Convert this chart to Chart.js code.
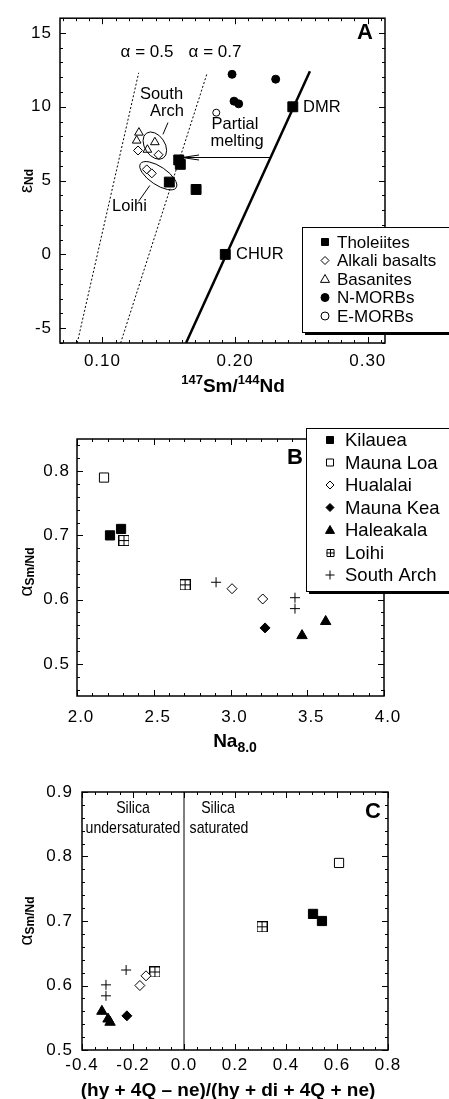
<!DOCTYPE html>
<html>
<head>
<meta charset="utf-8">
<script src="https://cdn.jsdelivr.net/npm/chart.js@4.4.1/dist/chart.umd.min.js"></script>
<style>
  html, body { margin: 0; padding: 0; background: #fff; }
  #wrap { position: relative; width: 449px; height: 1099px; overflow: hidden; }
  canvas { position: absolute; left: 0; }
</style>
</head>
<body>
<div id="wrap">
  <canvas id="chart-a" width="449" height="395" style="top:0"></canvas>
  <canvas id="chart-b" width="449" height="360" style="top:395px"></canvas>
  <canvas id="chart-c" width="449" height="344" style="top:755px"></canvas>
</div>
<script>
  // ---- Panel A: 147Sm/144Nd vs eps Nd ----
  const A_X_TICKS = [0.1, 0.2, 0.3];
  const A_Y_TICKS = [-5, 0, 5, 10, 15];
  const A_THOL_X = [0.1575, 0.1587, 0.1504, 0.1706];
  const A_THOL_Y = [6.4, 6.1, 4.9, 4.4];
  const A_RES_NAMES = ["CHUR", "DMR"];
  const A_RES_X = [0.1926, 0.2435];
  const A_RES_Y = [0, 10];
  const A_ALK_X = [0.1268, 0.1423, 0.1334, 0.1372];
  const A_ALK_Y = [7.04, 6.75, 5.76, 5.49];
  const A_BAS_X = [0.1275, 0.1258, 0.1395, 0.1339];
  const A_BAS_Y = [8.25, 7.71, 7.6, 7.09];
  const A_NMORB_X = [0.1977, 0.2306, 0.1992, 0.2027];
  const A_NMORB_Y = [12.2, 11.87, 10.38, 10.2];
  const A_EMORB_X = [0.1858];
  const A_EMORB_Y = [9.6];
  const A_MANTLE_X = [0.163, 0.2564];   // CHUR-DMR growth line
  const A_MANTLE_Y = [-6, 12.4];
  const A_ALPHA05_X = [0.081, 0.1273];
  const A_ALPHA05_Y = [-6, 12.3];
  const A_ALPHA07_X = [0.1137, 0.179];
  const A_ALPHA07_Y = [-6, 12.3];

  // ---- Panel B: Na8.0 vs alpha Sm/Nd ----
  const B_X_TICKS = [2.0, 2.5, 3.0, 3.5, 4.0];
  const B_Y_TICKS = [0.5, 0.6, 0.7, 0.8];
  const B_KIL_X = [2.215, 2.287];  const B_KIL_Y = [0.700, 0.710];
  const B_ML_X = [2.176];          const B_ML_Y = [0.790];
  const B_HUAL_X = [3.01, 3.21];   const B_HUAL_Y = [0.617, 0.601];
  const B_MK_X = [3.225];          const B_MK_Y = [0.556];
  const B_HAL_X = [3.466, 3.62];   const B_HAL_Y = [0.544, 0.566];
  const B_LOI_X = [2.306, 2.704];  const B_LOI_Y = [0.692, 0.623];
  const B_SA_X = [2.906, 3.42, 3.42];
  const B_SA_Y = [0.627, 0.603, 0.586];

  // ---- Panel C: normative silica index vs alpha Sm/Nd ----
  const C_X_TICKS = [-0.4, -0.2, 0, 0.2, 0.4, 0.6, 0.8];
  const C_Y_TICKS = [0.5, 0.6, 0.7, 0.8, 0.9];
  const C_KIL_X = [0.506, 0.541];  const C_KIL_Y = [0.711, 0.700];
  const C_ML_X = [0.608];          const C_ML_Y = [0.790];
  const C_HUAL_X = [-0.149, -0.173]; const C_HUAL_Y = [0.615, 0.600];
  const C_MK_X = [-0.224];         const C_MK_Y = [0.553];
  const C_HAL_X = [-0.322, -0.298, -0.29]; const C_HAL_Y = [0.560, 0.548, 0.543];
  const C_LOI_X = [0.306, -0.114]; const C_LOI_Y = [0.691, 0.621];
  const C_SA_X = [-0.227, -0.306, -0.306];
  const C_SA_Y = [0.624, 0.601, 0.584];
  const C_DIVIDE_X = [0, 0];       const C_DIVIDE_Y = [0.5, 0.9];

  const FONT = "'Liberation Sans', Arial, Helvetica, sans-serif";
  const f = (size, bold) => `${bold ? "bold " : ""}${size}px ${FONT}`;
  const pts = (xs, ys) => xs.map((x, i) => ({ x, y: ys[i] }));

  // square with a plus inside (Loihi)
  const BOX_PLUS = (() => {
    const c = document.createElement("canvas");
    c.width = 11; c.height = 11;
    const g = c.getContext("2d");
    g.fillStyle = "#fff"; g.fillRect(0, 0, 11, 11);
    g.strokeStyle = "#000"; g.lineWidth = 1;
    g.strokeRect(0.5, 0.5, 10, 10);
    g.beginPath(); g.moveTo(5.5, 0.5); g.lineTo(5.5, 10.5); g.moveTo(0.5, 5.5); g.lineTo(10.5, 5.5); g.stroke();
    return c;
  })();

  const pointSet = (label, xs, ys, style, r, fill) => ({
    label, data: pts(xs, ys), pointStyle: style, pointRadius: r,
    backgroundColor: fill, borderColor: "#000", borderWidth: 1, order: 1,
  });
  const lineSet = (label, xs, ys, w, dash) => ({
    label, data: pts(xs, ys), showLine: true, pointRadius: 0,
    borderColor: "#000", borderWidth: w, borderDash: dash || [], order: 5,
  });

  function fmt(v, dec) {
    return Math.abs(v) < 1e-9 ? (0).toFixed(dec) : v.toFixed(dec);
  }

  function axis(a, horiz) {
    return {
      type: "linear", position: horiz ? "bottom" : "left", min: a.min, max: a.max,
      grid: { display: false, drawTicks: false }, border: { display: false },
      afterFit: (s) => { if (horiz) s.height = a.size; else s.width = a.size; },
      afterBuildTicks: (s) => { s.ticks = a.ticks.map((v) => ({ value: v })); },
      ticks: {
        autoSkip: false, maxRotation: 0,
        padding: a.pad, labelOffset: a.labelOffset || 0, color: "#000",
        font: { family: FONT, size: 17 }, callback: (v) => fmt(v, a.dec),
      },
    };
  }

  function drawMarker(ctx, kind, x, y, s) {
    ctx.save();
    ctx.lineWidth = 1; ctx.strokeStyle = "#000";
    ctx.fillStyle = /Open/.test(kind) ? "#fff" : "#000";
    ctx.beginPath();
    if (kind.startsWith("sq")) ctx.rect(x - s, y - s, 2 * s, 2 * s);
    else if (kind.startsWith("dia")) { ctx.moveTo(x, y - s); ctx.lineTo(x + s, y); ctx.lineTo(x, y + s); ctx.lineTo(x - s, y); ctx.closePath(); }
    else if (kind.startsWith("tri")) { ctx.moveTo(x, y - s); ctx.lineTo(x + s, y + s * 0.75); ctx.lineTo(x - s, y + s * 0.75); ctx.closePath(); }
    else if (kind.startsWith("circ")) ctx.arc(x, y, s, 0, Math.PI * 2);
    if (kind === "boxPlus") {
      ctx.rect(x - s + 0.5, y - s + 0.5, 2 * s, 2 * s);
      ctx.moveTo(x + 0.5, y - s); ctx.lineTo(x + 0.5, y + s + 1);
      ctx.moveTo(x - s, y + 0.5); ctx.lineTo(x + s + 1, y + 0.5);
      ctx.stroke();
    } else if (kind === "plus") {
      ctx.moveTo(x, y - s); ctx.lineTo(x, y + s); ctx.moveTo(x - s, y); ctx.lineTo(x + s, y);
      ctx.stroke();
    } else {
      ctx.fill(); ctx.stroke();
    }
    ctx.restore();
  }

  function richText(ctx, parts, cx, baseY) {
    let w = 0;
    parts.forEach((p) => { ctx.font = p.font; p.w = ctx.measureText(p.t).width; w += p.w; });
    let x = cx - w / 2;
    ctx.textAlign = "left"; ctx.textBaseline = "alphabetic";
    parts.forEach((p) => { ctx.font = p.font; ctx.fillText(p.t, x, baseY + (p.dy || 0)); x += p.w; });
  }

  // frame with inward ticks on all four sides
  function framePlugin(cfg) {
    return {
      id: "frame",
      beforeDraw(chart) { chart.ctx.letterSpacing = "1px"; },
      beforeDatasetsDraw(chart) {
        const { ctx, chartArea: a, scales: { x, y } } = chart;
        const fr = cfg.frame;
        ctx.save();
        ctx.strokeStyle = "#000"; ctx.lineWidth = 1;
        const isMajor = (v, step) => Math.abs(v / step - Math.round(v / step)) < 1e-6;
        for (let i = Math.ceil(x.min / fr.xMinor - 1e-6); i * fr.xMinor <= x.max + 1e-9; i++) {
          const v = i * fr.xMinor, px = Math.round(x.getPixelForValue(v)) + 0.5;
          const len = isMajor(v, fr.xMajor) ? 6 : 3;
          ctx.beginPath();
          ctx.moveTo(px, a.bottom); ctx.lineTo(px, a.bottom - len);
          ctx.moveTo(px, a.top); ctx.lineTo(px, a.top + len);
          ctx.stroke();
        }
        for (let i = Math.ceil(y.min / fr.yMinor - 1e-6); i * fr.yMinor <= y.max + 1e-9; i++) {
          const v = i * fr.yMinor, py = Math.round(y.getPixelForValue(v)) + 0.5;
          const len = isMajor(v, fr.yMajor) ? 6 : 3;
          ctx.beginPath();
          ctx.moveTo(a.left, py); ctx.lineTo(a.left + len, py);
          ctx.moveTo(a.right, py); ctx.lineTo(a.right - len, py);
          ctx.stroke();
        }
        ctx.lineWidth = 1.5;
        ctx.strokeRect(a.left, a.top, a.right - a.left, a.bottom - a.top);
        ctx.restore();
      },
    };
  }

  function notesPlugin(cfg) {
    return {
      id: "notes",
      afterDraw(chart) {
        const { ctx, scales: { x, y } } = chart;
        const X = (v) => x.getPixelForValue(v), Y = (v) => y.getPixelForValue(v);
        ctx.save();
        ctx.letterSpacing = "0px";
        ctx.strokeStyle = "#000"; ctx.fillStyle = "#000"; ctx.lineWidth = 1;
        (cfg.ellipses || []).forEach((e) => {
          ctx.beginPath();
          ctx.ellipse(X(e.x), Y(e.y), e.rx, e.ry, (e.rot * Math.PI) / 180, 0, Math.PI * 2);
          ctx.stroke();
        });
        (cfg.segments || []).forEach((s) => {
          ctx.beginPath(); ctx.moveTo(X(s.x0), Y(s.y0)); ctx.lineTo(X(s.x1), Y(s.y1)); ctx.stroke();
        });
        (cfg.arrows || []).forEach((a) => {
          const x0 = X(a.x0), y0 = Math.round(Y(a.y0)) + 0.5, x1 = X(a.x1);
          ctx.beginPath(); ctx.moveTo(x0, y0); ctx.lineTo(x1, y0);
          ctx.moveTo(x1 + a.head, y0 - a.half); ctx.lineTo(x1, y0); ctx.lineTo(x1 + a.head, y0 + a.half);
          ctx.stroke();
        });
        (cfg.texts || []).forEach((t) => {
          ctx.save();
          ctx.font = t.font; ctx.textAlign = t.align || "center"; ctx.textBaseline = "middle";
          ctx.translate(t.x, t.y);
          if (t.sx) ctx.scale(t.sx, 1);
          ctx.fillText(t.t, 0, 0);
          ctx.restore();
        });
        if (cfg.legend) {
          const L = cfg.legend;
          ctx.fillStyle = "#fff";
          ctx.fillRect(L.left, L.top, 470 - L.left, L.bottom - L.top);
          ctx.strokeRect(L.left + 0.5, L.top + 0.5, 470, L.bottom - L.top);
          ctx.fillStyle = "#000";
          ctx.fillRect(L.left + 3, L.bottom, 470, 3);
          L.items.forEach((it, i) => {
            const yy = L.y0 + i * L.dy;
            drawMarker(ctx, it.kind, L.mx, yy, it.s);
            ctx.fillStyle = "#000";
            ctx.font = f(L.size);
            ctx.textAlign = "left"; ctx.textBaseline = "middle";
            ctx.fillText(it.label, L.tx, yy + 1);
          });
        }
        (cfg.titles || []).forEach((tt) => {
          ctx.save();
          ctx.fillStyle = "#000";
          ctx.translate(tt.x, tt.y);
          if (tt.rotate) ctx.rotate(-Math.PI / 2);
          richText(ctx, tt.parts, 0, 0);
          ctx.restore();
        });
        ctx.restore();
      },
    };
  }

  function makeChart(id, cfg) {
    return new Chart(document.getElementById(id), {
      type: "scatter",
      data: { datasets: cfg.datasets },
      options: {
        responsive: false, animation: false, devicePixelRatio: 1, events: [],
        layout: { padding: { top: cfg.pad.top, right: cfg.pad.right, left: 0, bottom: 0 } },
        plugins: { legend: { display: false }, tooltip: { enabled: false } },
        scales: { x: axis(cfg.x, true), y: axis(cfg.y, false) },
      },
      plugins: [framePlugin(cfg), notesPlugin(cfg)],
    });
  }

  const alphaSub = (x, y) => ({
    x, y, rotate: true,
    parts: [{ t: "α", font: f(19) }, { t: "Sm/Nd", font: f(12, true), dy: 2 }],
  });

  // ---------- Panel A ----------
  makeChart("chart-a", {
    pad: { top: 13, right: 64 },
    x: { min: 0.068, max: 0.313, ticks: A_X_TICKS, dec: 2, size: 52, pad: 8 },
    y: { min: -6, max: 16, ticks: A_Y_TICKS, dec: 0, size: 60, pad: 8 },
    frame: { xMinor: 0.01, xMajor: 0.1, yMinor: 1, yMajor: 5 },
    datasets: [
      pointSet("Tholeiites", A_THOL_X, A_THOL_Y, "rect", 7, "#000"),
      pointSet("Reservoirs", A_RES_X, A_RES_Y, "rect", 7, "#000"),
      pointSet("Alkali basalts", A_ALK_X, A_ALK_Y, "rectRot", 4.5, "#fff"),
      pointSet("Basanites", A_BAS_X, A_BAS_Y, "triangle", 5, "#fff"),
      pointSet("N-MORBs", A_NMORB_X, A_NMORB_Y, "circle", 4, "#000"),
      pointSet("E-MORBs", A_EMORB_X, A_EMORB_Y, "circle", 3.5, "#fff"),
      lineSet("Mantle", A_MANTLE_X, A_MANTLE_Y, 2.5),
      lineSet("α = 0.5", A_ALPHA05_X, A_ALPHA05_Y, 1, [2, 2]),
      lineSet("α = 0.7", A_ALPHA07_X, A_ALPHA07_Y, 1, [2, 2]),
    ],
    ellipses: [
      { x: 0.1395, y: 7.37, rx: 15, ry: 10, rot: 56 },
      { x: 0.1421, y: 5.33, rx: 21.5, ry: 9, rot: 34 },
    ],
    segments: [
      { x0: 0.1494, y0: 8.93, x1: 0.1456, y1: 8.13 },
      { x0: 0.1357, y0: 4.67, x1: 0.1273, y1: 3.6 },
    ],
    arrows: [{ x0: 0.2268, y0: 6.6, x1: 0.16, y1: 6.6, head: 17, half: 2.5 }],
    texts: [
      { t: "α = 0.5", x: 147, y: 52, font: f(17) },
      { t: "α = 0.7", x: 215, y: 52, font: f(17) },
      { t: "South", x: 161.5, y: 94, font: f(16.5) },
      { t: "Arch", x: 167, y: 111, font: f(16.5) },
      { t: "Partial", x: 235, y: 124, font: f(16.5) },
      { t: "melting", x: 237, y: 141, font: f(16.5) },
      { t: A_RES_NAMES[1], x: 303, y: 107, font: f(16.5), align: "left" },
      { t: A_RES_NAMES[0], x: 236, y: 254, font: f(16.5), align: "left" },
      { t: "Loihi", x: 129.5, y: 206, font: f(16.5) },
      { t: "A", x: 365, y: 33, font: f(22, true) },
    ],
    legend: {
      left: 302, top: 227, bottom: 332, mx: 325, tx: 337, y0: 242, dy: 18.5, size: 17,
      items: [
        { kind: "sqFill", s: 3.5, label: "Tholeiites" },
        { kind: "diaOpen", s: 4, label: "Alkali basalts" },
        { kind: "triOpen", s: 4.5, label: "Basanites" },
        { kind: "circFill", s: 4, label: "N-MORBs" },
        { kind: "circOpen", s: 4, label: "E-MORBs" },
      ],
    },
    titles: [
      { x: 233, y: 392, parts: [
        { t: "147", font: f(13, true), dy: -8 }, { t: "Sm/", font: f(19, true) },
        { t: "144", font: f(13, true), dy: -8 }, { t: "Nd", font: f(19, true) } ] },
      { x: 32, y: 181, rotate: true, parts: [{ t: "ε", font: f(18) }, { t: "Nd", font: f(12, true), dy: 1 }] },
    ],
  });

  // ---------- Panel B ----------
  makeChart("chart-b", {
    pad: { top: 44, right: 65 },
    x: { min: 2.0, max: 4.0, ticks: B_X_TICKS, dec: 1, size: 59, pad: 11, labelOffset: 4 },
    y: { min: 0.45, max: 0.85, ticks: B_Y_TICKS, dec: 1, size: 77, pad: 7 },
    frame: { xMinor: 0.1, xMajor: 0.5, yMinor: 0.02, yMajor: 0.1 },
    datasets: [
      pointSet("Kilauea", B_KIL_X, B_KIL_Y, "rect", 6.5, "#000"),
      pointSet("Mauna Loa", B_ML_X, B_ML_Y, "rect", 6.5, "#fff"),
      pointSet("Hualalai", B_HUAL_X, B_HUAL_Y, "rectRot", 5, "#fff"),
      pointSet("Mauna Kea", B_MK_X, B_MK_Y, "rectRot", 5, "#000"),
      pointSet("Haleakala", B_HAL_X, B_HAL_Y, "triangle", 6, "#000"),
      pointSet("Loihi", B_LOI_X, B_LOI_Y, BOX_PLUS, 5, "#fff"),
      pointSet("South Arch", B_SA_X, B_SA_Y, "cross", 5, "#000"),
    ],
    texts: [{ t: "B", x: 295, y: 63, font: f(22, true) }],
    legend: {
      left: 306, top: 33, bottom: 196, mx: 330, tx: 345, y0: 45, dy: 22.5, size: 18.5,
      items: [
        { kind: "sqFill", s: 3.5, label: "Kilauea" },
        { kind: "sqOpen", s: 3.5, label: "Mauna Loa" },
        { kind: "diaOpen", s: 4, label: "Hualalai" },
        { kind: "diaFill", s: 4, label: "Mauna Kea" },
        { kind: "triFill", s: 4.5, label: "Haleakala" },
        { kind: "boxPlus", s: 3.5, label: "Loihi" },
        { kind: "plus", s: 4.5, label: "South Arch" },
      ],
    },
    titles: [
      { x: 235, y: 352, parts: [{ t: "Na", font: f(19, true) }, { t: "8.0", font: f(14, true), dy: 5 }] },
      alphaSub(32, 177),
    ],
  });

  // ---------- Panel C ----------
  makeChart("chart-c", {
    pad: { top: 37, right: 61 },
    x: { min: -0.4, max: 0.8, ticks: C_X_TICKS, dec: 1, size: 49, pad: 5 },
    y: { min: 0.5, max: 0.9, ticks: C_Y_TICKS, dec: 1, size: 82, pad: 9 },
    frame: { xMinor: 0.05, xMajor: 0.2, yMinor: 0.02, yMajor: 0.1 },
    datasets: [
      pointSet("Kilauea", C_KIL_X, C_KIL_Y, "rect", 6.5, "#000"),
      pointSet("Mauna Loa", C_ML_X, C_ML_Y, "rect", 6.5, "#fff"),
      pointSet("Hualalai", C_HUAL_X, C_HUAL_Y, "rectRot", 5, "#fff"),
      pointSet("Mauna Kea", C_MK_X, C_MK_Y, "rectRot", 5, "#000"),
      pointSet("Haleakala", C_HAL_X, C_HAL_Y, "triangle", 6, "#000"),
      pointSet("Loihi", C_LOI_X, C_LOI_Y, BOX_PLUS, 5, "#fff"),
      pointSet("South Arch", C_SA_X, C_SA_Y, "cross", 5, "#000"),
      lineSet("divide", C_DIVIDE_X, C_DIVIDE_Y, 1),
    ],
    texts: [
      { t: "Silica", x: 133, y: 53, font: f(17), sx: 0.83 },
      { t: "undersaturated", x: 133, y: 73, font: f(17), sx: 0.83 },
      { t: "Silica", x: 218, y: 53, font: f(17), sx: 0.83 },
      { t: "saturated", x: 219, y: 73, font: f(17), sx: 0.83 },
      { t: "C", x: 373, y: 57, font: f(22, true) },
    ],
    titles: [
      { x: 228, y: 341, parts: [{ t: "(hy + 4Q – ne)/(hy + di + 4Q + ne)", font: f(19, true) }] },
      alphaSub(32, 166),
    ],
  });
</script>
</body>
</html>
